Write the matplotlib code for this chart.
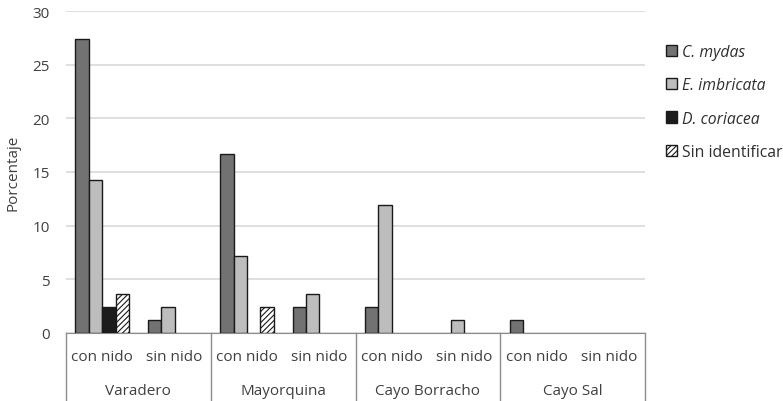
import numpy as np
import matplotlib.pyplot as plt
import matplotlib.transforms as mtransforms

plt.rcParams['font.family'] = ['Open Sans', 'DejaVu Sans']
plt.rcParams['hatch.linewidth'] = 0.8

sites = ['Varadero', 'Mayorquina', 'Cayo Borracho', 'Cayo Sal']
nest = ['con nido', 'sin nido']
series = ['C. mydas', 'E. imbricata', 'D. coriacea', 'Sin identificar']

c_mydas = [27.4, 1.2, 16.7, 2.4, 2.4, 0, 1.2, 0]
e_imbricata = [14.3, 2.4, 7.2, 3.6, 11.9, 1.2, 0, 0]
d_coriacea = [2.4, 0, 0, 0, 0, 0, 0, 0]
sin_ident = [3.6, 0, 2.4, 0, 0, 0, 0, 0]

values = [c_mydas, e_imbricata, d_coriacea, sin_ident]
colors = ['#727272', '#bdbdbd', '#1c1c1c', 'white']
hatches = [None, None, None, '//////']
italic = [True, True, True, False]

fig = plt.figure(figsize=(7.83, 4.02), dpi=100)
ax = fig.add_axes([66/783, 1-334/402, (645-66)/783, (334-12)/402])

x = np.arange(len(sites) * len(nest))
w = 0.185
for i, (vals, col, h) in enumerate(zip(values, colors, hatches)):
    v = np.array(vals, dtype=float)
    v[v == 0] = np.nan  # empty categories show no bar
    ax.bar(x + (i - 1.5) * w, v, w, color=col, edgecolor='#1a1a1a',
           linewidth=1.0, hatch=h, label=series[i], zorder=3)

ax.set_xlim(-0.5, len(x) - 0.5)
ax.set_ylim(0, 30)
ax.set_yticks(range(0, 31, 5))
ax.yaxis.grid(True, color='#d9d9d9', linewidth=1.2, zorder=0)
ax.tick_params(axis='y', length=0, labelsize=11, labelcolor='#404040', pad=11.5)
ax.set_xticks([])
for s in ['top', 'right', 'left']:
    ax.spines[s].set_visible(False)
ax.spines['bottom'].set_color('#8c8c8c')
ax.set_ylabel('Porcentaje', fontsize=11, color='#404040')
ax.yaxis.set_label_coords(-0.078, 0.5)

# two-level category axis
trans = mtransforms.blended_transform_factory(ax.transData, ax.transAxes)
low = -(402 - 334) / 322
for b in np.arange(-0.5, len(x), 2):
    ax.plot([b, b], [0, low], transform=trans, color='#8c8c8c', lw=1.0, clip_on=False)
for k in x:
    ax.text(k, -0.0745, nest[k % 2], transform=trans, ha='center', va='center',
            fontsize=11, color='#404040')
for j, s in enumerate(sites):
    ax.text(2 * j + 0.5, -0.18, s, transform=trans, ha='center', va='center',
            fontsize=11, color='#404040')

leg = ax.legend(loc='upper left', bbox_to_anchor=(666/783, 1-45/402),
                bbox_transform=fig.transFigure, frameon=False, fontsize=11.3,
                handlelength=0.72, handleheight=0.72, handletextpad=0.3,
                labelspacing=1.1, borderaxespad=0, borderpad=0)
for t, it in zip(leg.get_texts(), italic):
    t.set_color('#303030')
    if it:
        t.set_fontstyle('italic')

fig.savefig('out.png', dpi=100)
